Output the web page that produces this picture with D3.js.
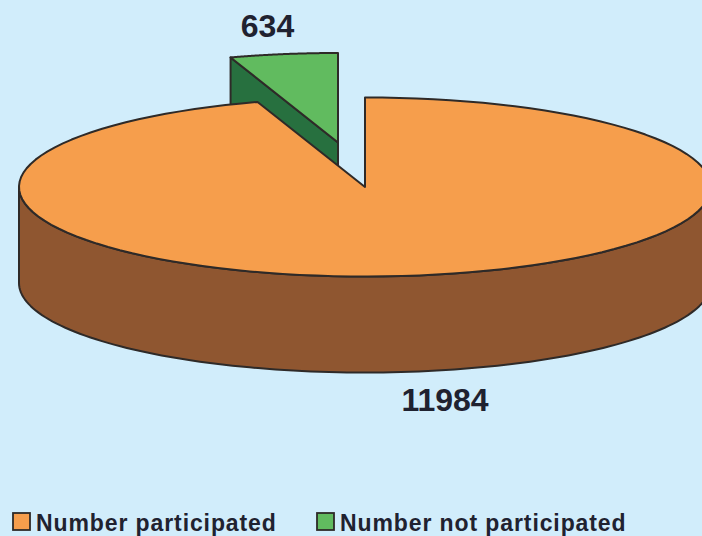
<!DOCTYPE html>
<html><head><meta charset="utf-8">
<script src="https://cdn.jsdelivr.net/npm/d3@7"></script>
<style>html,body{margin:0;padding:0;background:#d1edfb;overflow:hidden}svg{display:block}text{font-family:"Liberation Sans",Arial,sans-serif;font-weight:700;fill:#1f2230}</style>
</head><body><svg id="c" width="702" height="536"></svg>
<script>
const categories = ["Number participated", "Number not participated"];
const values = [11984, 634];
const topColors = ["#f69e4c", "#61bb5f"];
const sideColors = ["#8f5630", "#27703f"];

const W = 702, H = 536, rx = 346, ry = 89.5, depth = 96;
const center = [365, 187];
const explode = [-27, -44.5];
const stroke = "#2e2a28";
const sw = 2;
const svg = d3.select("#c").attr("viewBox", [0, 0, W, H]);
const arcs = d3.pie().sort(null)(values);
const proj = (t, o, r = 1, dz = 0) => [
  center[0] + o[0] + rx * r * Math.sin(t),
  center[1] + o[1] - ry * r * Math.cos(t) + dz
];
const line = d3.line();
const samples = (a0, a1) => d3.range(0, 121).map(i => a0 + (a1 - a0) * i / 120);

// Green exploded slice (drawn first, the large slice overlaps it)
const g = arcs[1];
const gOff = explode;
svg.append("path")
  .attr("d", line([proj(g.endAngle, gOff, 0), proj(g.startAngle, gOff), proj(g.startAngle, gOff, 1, depth), proj(g.endAngle, gOff, 0, depth)]) + "Z")
  .attr("fill", sideColors[1]).attr("stroke", stroke).attr("stroke-width", sw).attr("stroke-linejoin", "round");
svg.append("path")
  .attr("d", line([proj(0, gOff, 0), ...samples(g.startAngle, g.endAngle).map(t => proj(t, gOff))]) + "Z")
  .attr("fill", topColors[1]).attr("stroke", stroke).attr("stroke-width", sw).attr("stroke-linejoin", "round");

// Orange slice: outer wall, then top
const o = arcs[0], o0 = [0, 0];
const wall = samples(Math.PI / 2, 3 * Math.PI / 2);
svg.append("path")
  .attr("d", line([...wall.map(t => proj(t, o0)), ...wall.slice().reverse().map(t => proj(t, o0, 1, depth))]) + "Z")
  .attr("fill", sideColors[0]).attr("stroke", stroke).attr("stroke-width", sw).attr("stroke-linejoin", "round");
svg.append("path")
  .attr("d", line([proj(0, o0, 0), ...samples(o.startAngle, o.endAngle).map(t => proj(t, o0))]) + "Z")
  .attr("fill", topColors[0]).attr("stroke", stroke).attr("stroke-width", sw).attr("stroke-linejoin", "round");

// Value labels
svg.append("text").attr("x", 267.5).attr("y", 37).attr("text-anchor", "middle").attr("font-size", 32).text(values[1]);
svg.append("text").attr("x", 445).attr("y", 411).attr("text-anchor", "middle").attr("font-size", 32).text(values[0]);

// Legend
const legendX = [13, 317];
const lg = svg.selectAll("g.l").data(categories).join("g").attr("class", "l");
lg.append("rect").attr("x", (d, i) => legendX[i]).attr("y", 513).attr("width", 17).attr("height", 17)
  .attr("fill", (d, i) => topColors[i]).attr("stroke", stroke).attr("stroke-width", 1.8);
lg.append("text").attr("x", (d, i) => legendX[i] + 23).attr("y", 531)
  .attr("font-size", 23).attr("letter-spacing", 0.9).text(d => d);
</script></body></html>
